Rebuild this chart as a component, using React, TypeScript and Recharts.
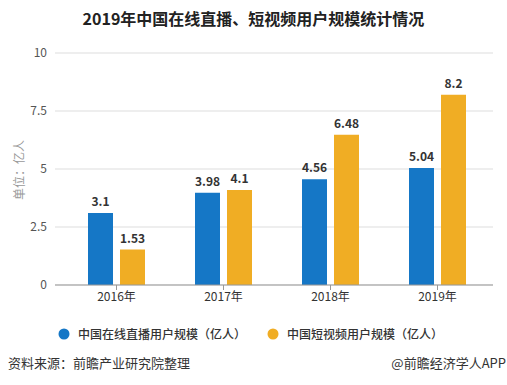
import React from 'react';
import { BarChart, Bar, XAxis, YAxis, CartesianGrid, LabelList, Legend } from 'recharts';

const categories = ['2016年', '2017年', '2018年', '2019年'];
const liveValues = [3.1, 3.98, 4.56, 5.04];
const shortVideoValues = [1.53, 4.1, 6.48, 8.2];
const yTicks = [0, 2.5, 5, 7.5, 10];
const seriesNames = ['中国在线直播用户规模（亿人）', '中国短视频用户规模（亿人）'];
const colors = ['#1577C6', '#F0AD24'];

const data = categories.map((c, i) => ({ name: c, live: liveValues[i], sv: shortVideoValues[i] }));

const FONT = '"Noto Sans CJK SC", "Noto Sans", sans-serif';

const LegendContent = () => (
  <div style={{ display: 'flex', fontFamily: FONT, fontSize: 12, color: '#333' }}>
    {seriesNames.map((n, i) => (
      <div key={n} style={{ display: 'flex', alignItems: 'center', position: 'absolute', left: i === 0 ? 58 : 267 }}>
        <svg width={12} height={12} style={{ marginRight: 8 }}>
          <circle cx={6} cy={6} r={5.5} fill={colors[i]} />
        </svg>
        <span style={{ fontWeight: 500 }}>{n}</span>
      </div>
    ))}
  </div>
);

export default function App() {
  return (
    <div style={{ position: 'absolute', left: 0, top: 0, width: 507, height: 385, background: '#fff', fontFamily: FONT }}>
      <div style={{ position: 'absolute', left: 0, top: 7, width: 507, textAlign: 'center', fontSize: 16, fontWeight: 'bold', color: '#222', lineHeight: '22px' }}>
        2019年中国在线直播、短视频用户规模统计情况
      </div>
      <div style={{ position: 'absolute', left: 18, top: 170, transform: 'translate(-50%, -50%) rotate(-90deg)', fontSize: 12, color: '#999', whiteSpace: 'nowrap' }}>
        单位：亿人
      </div>
      <BarChart width={507} height={385} data={data} margin={{ top: 53, right: 14, left: 0, bottom: 70 }} barSize={25} barGap={7}>
        <CartesianGrid vertical={false} stroke="#dddddd" />
        <XAxis
          dataKey="name"
          padding={{ left: 8, right: 2 }}
          axisLine={{ stroke: '#999' }}
          tickLine={{ stroke: '#999' }}
          tickSize={5}
          tick={{ fill: '#333', fontSize: 12, fontFamily: FONT }}
          height={30}
        />
        <YAxis
          domain={[0, 10]}
          ticks={yTicks}
          axisLine={false}
          tickLine={false}
          width={55}
          tick={{ fill: '#555', fontSize: 12, fontFamily: FONT }}
        />
        <Legend verticalAlign="bottom" wrapperStyle={{ top: 325, left: 0, width: 507 }} content={<LegendContent />} />
        <Bar dataKey="live" name={seriesNames[0]} fill={colors[0]} isAnimationActive={false}>
          <LabelList dataKey="live" position="top" offset={7} style={{ fill: '#333', fontSize: 12, fontWeight: 'bold', fontFamily: FONT }} />
        </Bar>
        <Bar dataKey="sv" name={seriesNames[1]} fill={colors[1]} isAnimationActive={false}>
          <LabelList dataKey="sv" position="top" offset={7} style={{ fill: '#333', fontSize: 12, fontWeight: 'bold', fontFamily: FONT }} />
        </Bar>
      </BarChart>
      <div style={{ position: 'absolute', left: 8, top: 354, fontSize: 13, color: '#333', lineHeight: '18px' }}>
        资料来源：前瞻产业研究院整理
      </div>
      <div style={{ position: 'absolute', right: 1, top: 354, fontSize: 13, color: '#333', lineHeight: '18px' }}>
        @前瞻经济学人APP
      </div>
    </div>
  );
}
